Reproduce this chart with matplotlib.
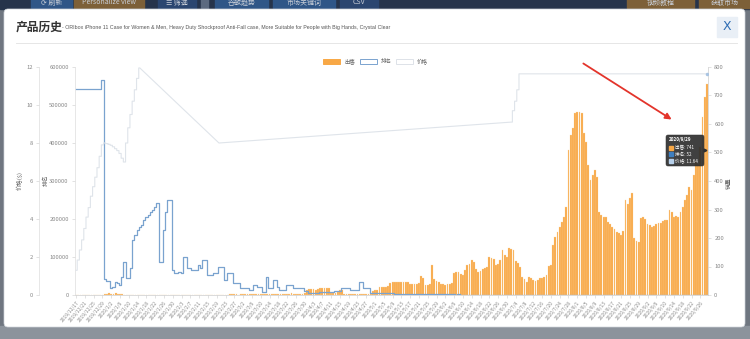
import numpy as np
import pandas as pd
import matplotlib
matplotlib.use('Agg')
import matplotlib.pyplot as plt
from matplotlib.patches import Rectangle, FancyBboxPatch, FancyArrowPatch

plt.rcParams['font.family'] = ['Noto Sans CJK SC', 'DejaVu Sans']

# ---- data ----
title_cn = '产品历史'
title_en = ('- ORIbox iPhone 11 Case for Women & Men, Heavy Duty Shockproof Anti-Fall case, '
            'More Suitable for People with Big Hands, Crystal Clear')
series_names = ['出售', '排名', '价格']
axis_names = ['价格($)', '排名', '销量']
start_date = '2019-12-17'

# daily units sold
sales = [
    0, 0, 0, 0, 0, 0, 0, 0, 0, 0, 0, 0, 0, 3, 5, 6, 5, 4, 6, 5, 3, 2, 0, 1,
    0, 0, 1, 0, 0, 0, 1, 0, 0, 0, 0, 1, 0, 0, 0, 0, 1, 0, 0, 0, 1, 0, 0, 0,
    0, 1, 0, 0, 0, 1, 0, 0, 0, 0, 1, 0, 0, 1, 0, 0, 0, 1, 0, 0, 0, 1, 2, 2,
    3, 2, 1, 2, 3, 4, 3, 2, 2, 3, 4, 3, 2, 3, 4, 3, 2, 3, 2, 3, 4, 3, 4, 5,
    4, 5, 6, 5, 4, 3, 4, 5, 6, 18, 21, 22, 20, 19, 21, 23, 24, 26, 25, 23, 8, 6, 7, 9,
    17, 18, 5, 4, 3, 4, 5, 4, 3, 3, 4, 3, 2, 3, 4, 15, 17, 18, 27, 28, 29, 28, 30, 42,
    44, 46, 45, 47, 45, 47, 46, 44, 40, 38, 37, 39, 41, 67, 60, 36, 34, 38, 105, 55, 50, 45, 40, 38,
    36, 37, 39, 41, 78, 82, 80, 72, 70, 88, 105, 110, 123, 115, 90, 81, 84, 92, 95, 97, 134, 130, 126, 105,
    108, 123, 158, 140, 134, 165, 160, 158, 118, 112, 98, 63, 55, 46, 63, 58, 53, 50, 52, 58, 60, 62, 70, 102,
    104, 175, 203, 221, 239, 256, 274, 309, 509, 561, 586, 639, 642, 642, 640, 568, 537, 456, 403, 420, 439, 414, 291, 280,
    274, 274, 256, 248, 239, 230, 221, 218, 212, 225, 333, 320, 340, 358, 200, 190, 186, 270, 272, 268, 250, 245, 240, 242,
    248, 253, 252, 258, 263, 262, 298, 290, 274, 276, 274, 290, 309, 333, 351, 379, 368, 420, 470, 460, 520, 625, 695, 741,
]

# daily sales rank
rank = [
    542000, 542000, 542000, 542000, 542000, 542000, 542000, 542000, 542000, 542000, 542000, 542000,
    566000, 42000, 38000, 36000, 18000, 20000, 34000, 32000, 26000, 47000, 87000, 45000,
    46000, 71000, 145000, 158000, 170000, 179000, 185000, 197000, 205000, 211000, 218000, 225000,
    232000, 242000, 87000, 88000, 171000, 218000, 250000, 250000, 66000, 58000, 58000, 60000,
    58000, 100000, 100000, 71000, 71000, 66000, 66000, 66000, 79000, 71000, 92000, 92000,
    53000, 53000, 53000, 58000, 58000, 74000, 74000, 74000, 39000, 58000, 58000, 58000,
    32000, 32000, 32000, 18000, 18000, 18000, 18000, 13000, 13000, 26000, 26000, 21000,
    21000, 8000, 8000, 47000, 18000, 18000, 39000, 39000, 21000, 13000, 13000, 13000,
    26000, 26000, 26000, 18000, 18000, 18000, 18000, 18000, 10000, 10000, 5000, 5000,
    5000, 5000, 5000, 8000, 8000, 7000, 7000, 7000, 7000, 7000, 10000, 10000,
    10000, 18000, 18000, 18000, 18000, 13000, 13000, 13000, 13000, 34000, 34000, 18000,
    18000, 18000, 5000, 5000, 5000, 5000, 5000, 6000, 5000, 4500, 4000, 4200,
    4100, 3900, 3600, 3800, 3500, 3300, 3400, 3100, 2900, 3000, 2800, 2600,
    2700, 2500, 2300, 2400, 2200, 2100, 2300, 2000, 1900, 2000, 1800, 1700,
    1800, 1600, 1500, 1600, 1400, 1300, 1400, 1200, 1100, 1200, 1000, 950,
    1000, 900, 850, 900, 800, 760, 800, 720, 680, 700, 650, 620,
    640, 600, 570, 590, 550, 520, 540, 500, 480, 500, 460, 440,
    460, 420, 400, 410, 380, 360, 370, 340, 330, 340, 310, 300,
    290, 280, 260, 240, 220, 200, 180, 160, 140, 120, 110, 100,
    95, 90, 85, 90, 95, 100, 110, 120, 130, 140, 150, 160,
    170, 180, 190, 200, 210, 200, 190, 180, 170, 160, 150, 160,
    170, 180, 190, 180, 170, 160, 150, 140, 130, 120, 110, 100,
    100, 95, 90, 95, 100, 95, 90, 85, 80, 85, 90, 85,
    80, 75, 70, 72, 68, 65, 62, 60, 58, 56, 54, 52,
]

# price records (day offset from start, price in $)
price_day = [0, 1, 2, 3, 4, 5, 6, 7, 8, 9, 10, 11, 12, 13, 14, 15, 16, 17, 18, 19,
             20, 21, 22, 23, 24, 25, 26, 27, 28, 29, 65, 198, 199, 200, 201, 202, 287]
price = [1.3, 1.84, 2.37, 2.9, 3.5, 4.1, 4.6, 5.2, 5.7, 6.2, 6.7, 7.3, 7.9, 8.0, 7.97, 7.93,
         7.88, 7.8, 7.7, 7.6, 7.45, 7.2, 7.0, 8.0, 8.8, 9.5, 10.2, 10.8, 11.4, 11.95,
         8.0, 9.1, 9.7, 10.2, 10.8, 11.64, 11.64]

dates = pd.date_range(start_date, periods=len(sales))
date_labels = [f'{d.year}/{d.month}/{d.day}' for d in dates]
x = np.arange(len(sales))

W, H = 750, 339
fig = plt.figure(figsize=(W / 100, H / 100), dpi=100)

# ---- page chrome (pixel coordinates) ----
bg = fig.add_axes([0, 0, 1, 1], zorder=0)
bg.set_xlim(0, W)
bg.set_ylim(H, 0)
bg.axis('off')
bg.add_patch(Rectangle((0, 0), W, H, color='#6f7680'))
bg.add_patch(Rectangle((0, 0), W, 9, color='#26344b'))
bg.add_patch(Rectangle((0, 326), W, 13, color='#8c939c'))
buttons = [(31, 72, '#2f5687', '⟳ 刷新'), (74, 144, '#7d6038', 'Personalize view'),
           (158, 196, '#2b4670', '☰ 筛选'), (201, 208, '#5c6a80', ''),
           (215, 268, '#2f5687', '谷歌趋势'), (273, 335, '#2f5687', '市场关键词'),
           (340, 378, '#2b4670', 'CSV'), (627, 694, '#7d6038', '视频教程'),
           (699, 750, '#7d6038', '获取市场')]
for x0, x1, c, t in buttons:
    bg.add_patch(Rectangle((x0, -4), x1 - x0, 12, color=c))
    if t:
        bg.text((x0 + x1) / 2, 2.5, t, color='#c9cfd8', fontsize=5, ha='center', va='center')
bg.add_patch(FancyBboxPatch((4, 9), W - 9, 318, boxstyle='round,pad=0,rounding_size=4',
                            fc='white', ec='#d0d4da', lw=0.5))

# header
t_cn = bg.text(16, 27, title_cn, fontsize=8.5, fontweight='bold', color='#333333', va='center')
t_en = bg.text(62, 27.5, title_en, fontsize=5, color='#555555', va='center',
               family=['Liberation Sans', 'DejaVu Sans'])
bg.plot([16, 737], [43, 43], color='#e6e6e6', lw=0.7)
bg.add_patch(Rectangle((717, 17), 20, 20, color='#e9eff6'))
bg.text(727, 27, 'X', fontsize=9, color='#2e6db4', ha='center', va='center',
        family=['DejaVu Sans'])

# legend
leg = [(323, '#f8a846', '#f8a846'), (360, 'white', '#7aa3cf'), (396, 'white', '#dde2e8')]
for (lx, fc, ec), name in zip(leg, series_names):
    bg.add_patch(Rectangle((lx, 58.5), 17, 5.5, fc=fc, ec=ec, lw=0.7))
    bg.text(lx + 21, 61.3, name, fontsize=4, color='#666666', va='center')

# axis titles
bg.text(20, 180, axis_names[0], fontsize=4.2, color='#666666', rotation=90, ha='center', va='center')
bg.text(46, 180, axis_names[1], fontsize=4.2, color='#666666', rotation=90, ha='center', va='center')
bg.text(729, 183, axis_names[2], fontsize=4.2, color='#666666', rotation=90, ha='center', va='center')

# ---- chart ----
left, right, top, bottom = 75, 708, 67, 295
ax = fig.add_axes([left / W, (H - bottom) / H, (right - left) / W, (bottom - top) / H], zorder=2)
ax.patch.set_alpha(0)
ax.bar(x, sales, width=0.82, color='#f8a846', edgecolor='#fbd7a8', linewidth=0.2, zorder=2)
ax.set_xlim(-0.5, len(sales) - 0.5)
ax.set_ylim(0, 800)
ax.set_yticks(range(0, 801, 100))
ax.set_xticks(x[::4])
ax.set_xticklabels(date_labels[::4], rotation=50, ha='right', va='top',
                   rotation_mode='anchor', fontsize=3.5, color='#888888')
ax.tick_params(axis='x', length=2, width=0.4, color='#cccccc', pad=1.5)
for s in ['top', 'left']:
    ax.spines[s].set_visible(False)
for s in ['right', 'bottom']:
    ax.spines[s].set_color('#cccccc')
    ax.spines[s].set_linewidth(0.5)

ax_rank = ax.twinx()
ax_rank.plot(x, rank, drawstyle='steps-mid', color='#7aa3cf', lw=0.9, zorder=3)
ax_rank.set_ylim(0, 600000)
ax_rank.set_yticks(range(0, 600001, 100000))
ax_rank.ticklabel_format(axis='y', style='plain', useOffset=False)
ax_rank.yaxis.tick_left()
ax_rank.tick_params(axis='y', length=2.5, width=0.4, color='#cccccc', labelcolor='#888888',
                    labelsize=4.2, pad=2)
for s in ['top', 'right', 'bottom']:
    ax_rank.spines[s].set_visible(False)
ax_rank.spines['left'].set_visible(True)
ax_rank.spines['left'].set_color('#dddddd')
ax_rank.spines['left'].set_linewidth(0.5)

# price line: steps between consecutive days, straight across missing days
lx_, ly_ = [price_day[0]], [price[0]]
for d0, d1, v0, v1 in zip(price_day[:-1], price_day[1:], price[:-1], price[1:]):
    if d1 - d0 == 1:
        lx_ += [d0 + 0.5, d0 + 0.5, d1]
        ly_ += [v0, v1, v1]
    else:
        lx_.append(d1)
        ly_.append(v1)

ax_price = ax.twinx()
ax_price.plot(lx_, ly_, color='#dfe4ea', lw=0.8, zorder=3)
ax_price.plot([price_day[-1]], [price[-1]], 'o', ms=1.5, color='#a9c4e2', zorder=4)
ax_price.set_ylim(0, 12)
ax_price.set_yticks(range(0, 13, 2))
ax_price.yaxis.tick_left()
ax_price.spines['left'].set_position(('outward', 36 * 0.72))
ax_price.tick_params(axis='y', length=2.5, width=0.4, color='#cccccc', labelcolor='#888888',
                     labelsize=4.2, pad=2)
for s in ['top', 'right', 'bottom']:
    ax_price.spines[s].set_visible(False)
ax_price.spines['left'].set_visible(True)
ax_price.spines['left'].set_color('#dddddd')
ax_price.spines['left'].set_linewidth(0.5)

# twinx moves the sales ticks to the left, so put them back on the right
ax.yaxis.tick_right()
ax.tick_params(axis='y', length=2.5, width=0.4, color='#cccccc', labelcolor='#888888',
               labelsize=4.2, pad=2)

# ---- overlay: pointer arrow and tooltip ----
fg = fig.add_axes([0, 0, 1, 1], zorder=5)
fg.set_xlim(0, W)
fg.set_ylim(H, 0)
fg.axis('off')
fg.add_patch(FancyArrowPatch((581, 62), (674, 121), arrowstyle='-|>', mutation_scale=9,
                             color='#e3342b', lw=1.3))
fg.add_patch(FancyBboxPatch((666, 135), 38, 31, boxstyle='round,pad=0,rounding_size=2',
                            fc='#2f2f2f', ec='#333333', lw=0.4, alpha=0.92))
fg.plot([705], [150], marker='>', ms=2, color='#2f2f2f')
fg.text(669, 140, date_labels[-1], fontsize=3.3, color='white', fontweight='bold', va='center')
tip_rows = [('#f8a846', f'{series_names[0]}: {sales[-1]}'),
            ('#3f7fc0', f'{series_names[1]}: {rank[-1]}'),
            ('#b7d0ea', f'{series_names[2]}: {price[-1]}')]
for k, (c, t) in enumerate(tip_rows):
    yy = 147.5 + k * 6.5
    fg.add_patch(Rectangle((669, yy - 2), 4, 4, color=c))
    fg.text(675, yy, t, fontsize=3.3, color='white', va='center')

# squeeze the product name into the header line
fig.canvas.draw()
w = t_en.get_window_extent().width
t_en.set_fontsize(5 * 329 / w)

fig.savefig('out.png', dpi=100)
